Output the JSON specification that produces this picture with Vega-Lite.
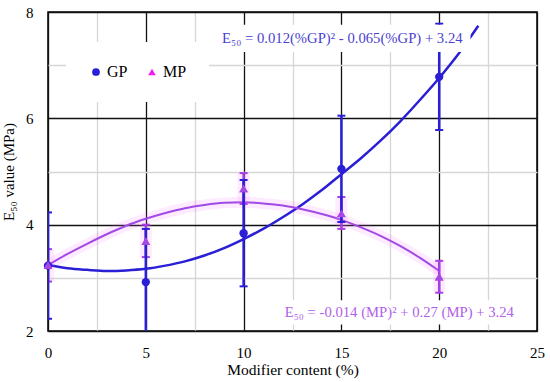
{
  "$schema": "https://vega.github.io/schema/vega-lite/v6.json",
  "width": 489,
  "height": 319,
  "autosize": {"type": "none"},
  "padding": {"left": 48, "top": 12, "right": 13, "bottom": 51},
  "background": "white",
  "config": {
    "view": {"stroke": "black", "strokeWidth": 1.5},
    "font": "Liberation Serif",
    "axis": {"labelFont": "Liberation Serif", "titleFont": "Liberation Serif"},
    "legend": {"labelFont": "Liberation Serif", "titleFont": "Liberation Serif"},
    "text": {"font": "Liberation Serif"}
  },
  "datasets": {
    "points": [
      {"series": "GP", "content": 0, "value": 3.23, "lo": 2.23, "hi": 4.23},
      {"series": "GP", "content": 5, "value": 2.92, "lo": 1.92, "hi": 3.92},
      {"series": "GP", "content": 10, "value": 3.84, "lo": 2.84, "hi": 4.84},
      {"series": "GP", "content": 15, "value": 5.05, "lo": 4.05, "hi": 6.05},
      {"series": "GP", "content": 20, "value": 6.78, "lo": 5.78, "hi": 7.78},
      {"series": "MP", "content": 0, "value": 3.24, "lo": 2.93, "hi": 3.54},
      {"series": "MP", "content": 5, "value": 3.69, "lo": 3.39, "hi": 4.0},
      {"series": "MP", "content": 10, "value": 4.68, "lo": 4.39, "hi": 4.97},
      {"series": "MP", "content": 15, "value": 4.21, "lo": 3.92, "hi": 4.52},
      {"series": "MP", "content": 20, "value": 3.02, "lo": 2.72, "hi": 3.32}
    ],
    "curves": [
      {"series": "GP", "content": 0, "value": 3.24},
      {"series": "GP", "content": 1, "value": 3.18},
      {"series": "GP", "content": 2, "value": 3.15},
      {"series": "GP", "content": 3, "value": 3.13},
      {"series": "GP", "content": 4, "value": 3.14},
      {"series": "GP", "content": 5, "value": 3.17},
      {"series": "GP", "content": 6, "value": 3.23},
      {"series": "GP", "content": 7, "value": 3.31},
      {"series": "GP", "content": 8, "value": 3.42},
      {"series": "GP", "content": 9, "value": 3.56},
      {"series": "GP", "content": 10, "value": 3.73},
      {"series": "GP", "content": 11, "value": 3.92},
      {"series": "GP", "content": 12, "value": 4.14},
      {"series": "GP", "content": 13, "value": 4.38},
      {"series": "GP", "content": 14, "value": 4.65},
      {"series": "GP", "content": 15, "value": 4.95},
      {"series": "GP", "content": 16, "value": 5.25},
      {"series": "GP", "content": 17, "value": 5.58},
      {"series": "GP", "content": 18, "value": 5.94},
      {"series": "GP", "content": 19, "value": 6.34},
      {"series": "GP", "content": 20, "value": 6.76},
      {"series": "GP", "content": 21, "value": 7.22},
      {"series": "GP", "content": 22, "value": 7.74},
      {"series": "MP", "content": 0, "value": 3.24},
      {"series": "MP", "content": 1, "value": 3.45},
      {"series": "MP", "content": 2, "value": 3.64},
      {"series": "MP", "content": 3, "value": 3.82},
      {"series": "MP", "content": 4, "value": 3.98},
      {"series": "MP", "content": 5, "value": 4.11},
      {"series": "MP", "content": 6, "value": 4.22},
      {"series": "MP", "content": 7, "value": 4.31},
      {"series": "MP", "content": 8, "value": 4.37},
      {"series": "MP", "content": 9, "value": 4.41},
      {"series": "MP", "content": 10, "value": 4.42},
      {"series": "MP", "content": 11, "value": 4.40},
      {"series": "MP", "content": 12, "value": 4.36},
      {"series": "MP", "content": 13, "value": 4.29},
      {"series": "MP", "content": 14, "value": 4.20},
      {"series": "MP", "content": 15, "value": 4.09},
      {"series": "MP", "content": 16, "value": 3.95},
      {"series": "MP", "content": 17, "value": 3.79},
      {"series": "MP", "content": 18, "value": 3.60},
      {"series": "MP", "content": 19, "value": 3.38},
      {"series": "MP", "content": 20, "value": 3.13}
    ]
  },
  "layer": [
    {
      "data": {"name": "curves"},
      "transform": [{"filter": "datum.series === 'MP'"}],
      "mark": {"type": "line", "interpolate": "monotone", "color": "#ff70ff", "strokeWidth": 11, "opacity": 0.14},
      "encoding": {
        "x": {
          "field": "content", "type": "quantitative",
          "scale": {"domain": [0, 25], "nice": false, "zero": false},
          "axis": {
            "values": [0, 2.5, 5, 7.5, 10, 12.5, 15, 17.5, 20, 22.5, 25],
            "labelExpr": "datum.value % 5 === 0 ? datum.label : ''",
            "labelOverlap": false, "labelFlush": false,
            "grid": true,
            "gridColor": {"condition": {"test": "datum.value % 5 === 0", "value": "#111111"}, "value": "#d6d6d6"},
            "gridWidth": 1.3,
            "ticks": false, "domain": false,
            "labelPadding": 14, "labelFontSize": 15, "labelColor": "black", "labelFont": "Liberation Serif",
            "title": "Modifier content (%)", "titleFontSize": 15.5, "titleFontWeight": "normal",
            "titleFont": "Liberation Serif", "titleColor": "black", "titlePadding": 2
          }
        },
        "y": {
          "field": "value", "type": "quantitative",
          "scale": {"domain": [2, 8], "nice": false, "zero": false},
          "axis": {
            "values": [2, 3, 4, 5, 6, 7, 8],
            "labelExpr": "datum.value % 2 === 0 ? datum.label : ''",
            "labelOverlap": false, "labelFlush": false,
            "grid": true,
            "gridColor": {"condition": {"test": "datum.value % 2 === 0", "value": "#111111"}, "value": "#d6d6d6"},
            "gridWidth": 1.3,
            "ticks": false, "domain": false,
            "labelPadding": 15, "labelFontSize": 15, "labelColor": "black", "labelFont": "Liberation Serif",
            "title": "E₅₀ value (MPa)", "titleFontSize": 15, "titleFontWeight": "normal",
            "titleFont": "Liberation Serif", "titleColor": "black", "titlePadding": 9
          }
        }
      }
    },
    {
      "data": {"name": "curves"},
      "transform": [{"filter": "datum.series === 'GP'"}],
      "mark": {"type": "line", "interpolate": "monotone", "color": "#2a1fd6", "strokeWidth": 2.5},
      "encoding": {
        "x": {"field": "content", "type": "quantitative"},
        "y": {"field": "value", "type": "quantitative"}
      }
    },
    {
      "data": {"name": "curves"},
      "transform": [{"filter": "datum.series === 'MP'"}],
      "mark": {"type": "line", "interpolate": "monotone", "color": "#a24ae6", "strokeWidth": 2},
      "encoding": {
        "x": {"field": "content", "type": "quantitative"},
        "y": {"field": "value", "type": "quantitative"}
      }
    },
    {
      "data": {"name": "points"},
      "transform": [{"filter": "datum.series === 'MP'"}],
      "mark": {"type": "rule", "color": "#ff70ff", "strokeWidth": 12, "opacity": 0.14, "clip": true},
      "encoding": {
        "x": {"field": "content", "type": "quantitative"},
        "y": {"field": "lo", "type": "quantitative"},
        "y2": {"field": "hi"}
      }
    },
    {
      "data": {"name": "points"},
      "transform": [{"filter": "datum.series === 'MP'"}],
      "mark": {"type": "rule", "strokeWidth": 2.5, "clip": true, "color": "#a83ee6"},
      "encoding": {
        "x": {"field": "content", "type": "quantitative"},
        "y": {"field": "lo", "type": "quantitative"},
        "y2": {"field": "hi"}
      }
    },
    {
      "data": {"name": "points"},
      "transform": [{"filter": "datum.series === 'MP'"}],
      "mark": {"type": "tick", "orient": "horizontal", "size": 8, "thickness": 2, "opacity": 1, "clip": true, "color": "#a83ee6"},
      "encoding": {
        "x": {"field": "content", "type": "quantitative"},
        "y": {"field": "lo", "type": "quantitative"}
      }
    },
    {
      "data": {"name": "points"},
      "transform": [{"filter": "datum.series === 'MP'"}],
      "mark": {"type": "tick", "orient": "horizontal", "size": 8, "thickness": 2, "opacity": 1, "clip": true, "color": "#a83ee6"},
      "encoding": {
        "x": {"field": "content", "type": "quantitative"},
        "y": {"field": "hi", "type": "quantitative"}
      }
    },
    {
      "data": {"name": "points"},
      "transform": [{"filter": "datum.series === 'GP'"}],
      "mark": {"type": "rule", "strokeWidth": 2.5, "clip": true, "color": "#2a1fd6"},
      "encoding": {
        "x": {"field": "content", "type": "quantitative"},
        "y": {"field": "lo", "type": "quantitative"},
        "y2": {"field": "hi"}
      }
    },
    {
      "data": {"name": "points"},
      "transform": [{"filter": "datum.series === 'GP'"}],
      "mark": {"type": "tick", "orient": "horizontal", "size": 8, "thickness": 2, "opacity": 1, "clip": true, "color": "#2a1fd6"},
      "encoding": {
        "x": {"field": "content", "type": "quantitative"},
        "y": {"field": "lo", "type": "quantitative"}
      }
    },
    {
      "data": {"name": "points"},
      "transform": [{"filter": "datum.series === 'GP'"}],
      "mark": {"type": "tick", "orient": "horizontal", "size": 8, "thickness": 2, "opacity": 1, "clip": true, "color": "#2a1fd6"},
      "encoding": {
        "x": {"field": "content", "type": "quantitative"},
        "y": {"field": "hi", "type": "quantitative"}
      }
    },
    {
      "data": {"name": "points"},
      "mark": {"type": "point", "filled": true, "opacity": 1, "size": 70, "strokeWidth": 0},
      "encoding": {
        "x": {"field": "content", "type": "quantitative"},
        "y": {"field": "value", "type": "quantitative"},
        "color": {
          "field": "series", "type": "nominal",
          "scale": {"domain": ["GP", "MP"], "range": ["#2a1fd6", "#ee22ee"]},
          "legend": {
            "orient": "none", "legendX": 18, "legendY": 30,
            "direction": "horizontal", "title": null,
            "fillColor": "white", "padding": 22,
            "labelFont": "Liberation Serif", "labelFontSize": 16, "labelColor": "black",
            "symbolSize": 60, "columnPadding": 16, "labelOffset": 3
          }
        },
        "shape": {
          "field": "series", "type": "nominal",
          "scale": {"domain": ["GP", "MP"], "range": ["circle", "triangle-up"]}
        }
      }
    },
    {
      "data": {"name": "points"},
      "transform": [{"filter": "datum.series === 'MP'"}],
      "mark": {"type": "point", "filled": true, "opacity": 1, "size": 76, "shape": "triangle-up", "color": "#a24ae6", "strokeWidth": 0},
      "encoding": {
        "x": {"field": "content", "type": "quantitative"},
        "y": {"field": "value", "type": "quantitative"}
      }
    },
    {
      "data": {"values": [{}]},
      "mark": {"type": "rect", "color": "white"},
      "encoding": {
        "x": {"datum": 8.55, "type": "quantitative"},
        "x2": {"datum": 21.6},
        "y": {"datum": 7.25, "type": "quantitative"},
        "y2": {"datum": 7.76}
      }
    },
    {
      "data": {"values": [{}]},
      "mark": {"type": "rect", "color": "white"},
      "encoding": {
        "x": {"datum": 11.85, "type": "quantitative"},
        "x2": {"datum": 24.25},
        "y": {"datum": 2.12, "type": "quantitative"},
        "y2": {"datum": 2.58}
      }
    },
    {
      "data": {"values": [{}]},
      "mark": {"type": "text", "align": "left", "baseline": "middle", "font": "Liberation Serif", "fontSize": 14.7, "color": "#4a3fd0"},
      "encoding": {
        "x": {"datum": 8.9, "type": "quantitative"},
        "y": {"datum": 7.5, "type": "quantitative"},
        "text": {"value": "E₅₀ = 0.012(%GP)² - 0.065(%GP) + 3.24"}
      }
    },
    {
      "data": {"values": [{}]},
      "mark": {"type": "text", "align": "left", "baseline": "middle", "font": "Liberation Serif", "fontSize": 14.7, "color": "#b060e8"},
      "encoding": {
        "x": {"datum": 12.1, "type": "quantitative"},
        "y": {"datum": 2.34, "type": "quantitative"},
        "text": {"value": "E₅₀  = -0.014 (MP)² + 0.27 (MP) + 3.24"}
      }
    }
  ]
}
